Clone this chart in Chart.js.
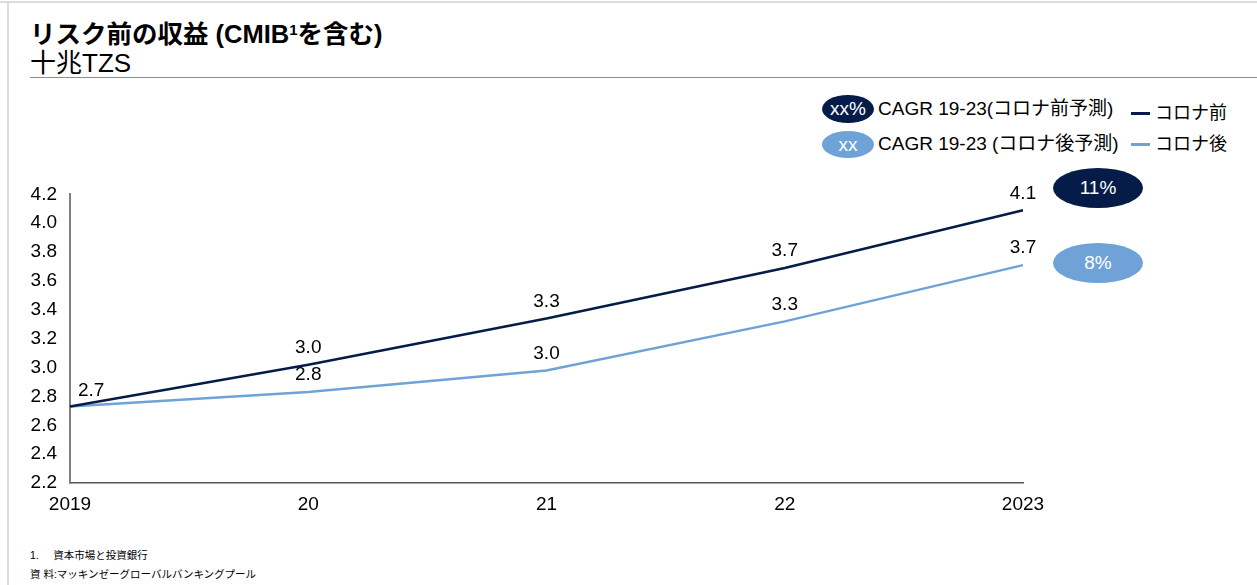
<!DOCTYPE html>
<html lang="ja">
<head>
<meta charset="utf-8">
<script src="https://cdn.jsdelivr.net/npm/chart.js@4.4.1/dist/chart.umd.min.js"></script>
<style>
  html, body { margin:0; padding:0; background:#fff; }
  body { width:1257px; height:585px; position:relative; overflow:hidden;
         font-family:"Liberation Sans", Arial, "Noto Sans CJK JP", sans-serif; color:#000; }
  .frame-top { position:absolute; left:0; top:1px; width:1257px; height:2px; background:#dcdcdc; }
  .frame-left { position:absolute; left:7px; top:1px; width:2px; height:584px; background:#dcdcdc; }
  .title { position:absolute; left:30px; top:19px; font-size:25.5px; line-height:30px; font-weight:bold; white-space:nowrap; }
  .title .sup { font-size:15px; position:relative; top:-8px; }
  .subtitle { position:absolute; left:30px; top:49px; font-size:26px; line-height:28px; white-space:nowrap; }
  .rule { position:absolute; left:30px; top:77px; width:1227px; height:1px; background:#8c8c8c; }
  .leg { position:absolute; font-size:19px; white-space:nowrap; line-height:22px; }
  .leg.jp { font-size:18px; }
  .pill { position:absolute; border-radius:50%; color:#fff; text-align:center; }
  .line-sw { position:absolute; width:19px; height:3px; }
  .foot { position:absolute; left:30px; font-size:10.5px; white-space:nowrap; }
  #wrap { position:absolute; left:0; top:170px; width:1257px; height:350px; }
</style>
</head>
<body>
<div class="frame-top"></div>
<div class="frame-left"></div>
<div class="title">リスク前の収益 (CMIB<span class="sup">1</span>を含む)</div>
<div class="subtitle">十兆TZS</div>
<div class="rule"></div>

<!-- legend -->
<div class="pill" style="left:822px;top:95px;width:52px;height:28px;line-height:28px;font-size:19px;background:#061c48;">xx%</div>
<div class="leg" style="left:878px;top:98px;">CAGR 19-23(コロナ前予測)</div>
<div class="line-sw" style="left:1131px;top:112px;background:#061c48;"></div>
<div class="leg jp" style="left:1155px;top:102px;">コロナ前</div>

<div class="pill" style="left:822px;top:131px;width:52px;height:27px;line-height:27px;font-size:19px;background:#6fa3d8;">xx</div>
<div class="leg" style="left:878px;top:133px;">CAGR 19-23 (コロナ後予測)</div>
<div class="line-sw" style="left:1131px;top:143px;background:#6fa3d8;"></div>
<div class="leg jp" style="left:1155px;top:133px;">コロナ後</div>

<!-- CAGR bubbles -->
<div class="pill" style="left:1053px;top:168px;width:90px;height:40px;line-height:40px;font-size:19px;background:#061c48;">11%</div>
<div class="pill" style="left:1053px;top:243px;width:90px;height:40px;line-height:40px;font-size:19px;background:#6fa3d8;">8%</div>

<div id="wrap"><canvas id="revChart"></canvas></div>

<div class="foot" style="top:547px;">1.&nbsp;&nbsp;&nbsp;&nbsp;&nbsp;資本市場と投資銀行</div>
<div class="foot" style="top:566px;">資 料:マッキンゼーグローバルバンキングプール</div>

<script>
// data
const years = ["2019", "20", "21", "22", "2023"];
const preCovid = [2.73, 3.02, 3.34, 3.69, 4.09];
const postCovid = [2.73, 2.83, 2.98, 3.32, 3.71];
const preLabels = ["2.7", "3.0", "3.3", "3.7", "4.1"];
const postLabels = [null, "2.8", "3.0", "3.3", "3.7"];
const yTicks = [2.2, 2.4, 2.6, 2.8, 3.0, 3.2, 3.4, 3.6, 3.8, 4.0, 4.2];

const FONT = '"Liberation Sans", Arial, sans-serif';

/* ===============================
   VALUE LABELS
================================ */
const valueLabels = {
  id: "valueLabels",
  afterDatasetsDraw(chart) {
    const ctx = chart.ctx;
    const sets = [preLabels, postLabels];
    ctx.save();
    ctx.font = "19px " + FONT;
    ctx.fillStyle = "#000";
    ctx.textBaseline = "middle";
    sets.forEach((lbls, di) => {
      const meta = chart.getDatasetMeta(di);
      meta.data.forEach((pt, i) => {
        if (!lbls[i]) return;
        if (i === 0) {
          ctx.textAlign = "left";
          ctx.fillText(lbls[i], pt.x + 8, pt.y - 16);
        } else {
          ctx.textAlign = "center";
          ctx.fillText(lbls[i], pt.x, pt.y - 17);
        }
      });
    });
    ctx.restore();
  }
};

/* ===============================
   INIT CHART
================================ */
const revChart = new Chart(document.getElementById("revChart"), {
  type: "line",
  data: {
    labels: years,
    datasets: [
      {
        label: "コロナ前",
        data: preCovid,
        borderColor: "#061c48",
        borderWidth: 2.5,
        pointRadius: 0,
        tension: 0
      },
      {
        label: "コロナ後",
        data: postCovid,
        borderColor: "#6fa3d8",
        borderWidth: 2.5,
        pointRadius: 0,
        tension: 0
      }
    ]
  },
  options: {
    responsive: true,
    maintainAspectRatio: false,
    animation: false,
    layout: { padding: { top: 22, right: 234, left: 0, bottom: 0 } },
    plugins: { legend: { display: false }, tooltip: { enabled: false } },
    scales: {
      x: {
        offset: false,
        grid: { display: false, drawTicks: false },
        border: { display: true, color: "#555", width: 1.5 },
        ticks: { color: "#000", padding: 10, maxRotation: 0,
                 font: { size: 19, family: FONT } },
        afterFit(s) { s.height = 37; }
      },
      y: {
        min: 2.2,
        max: 4.2,
        grid: { display: false, drawTicks: false },
        border: { display: true, color: "#808080", width: 2 },
        afterBuildTicks(s) { s.ticks = yTicks.map(v => ({ value: v })); },
        ticks: { color: "#000", padding: 13,
                 font: { size: 19, family: FONT },
                 callback: v => v.toFixed(1) },
        afterFit(s) { s.width = 70; }
      }
    }
  },
  plugins: [valueLabels]
});
</script>
</body>
</html>
